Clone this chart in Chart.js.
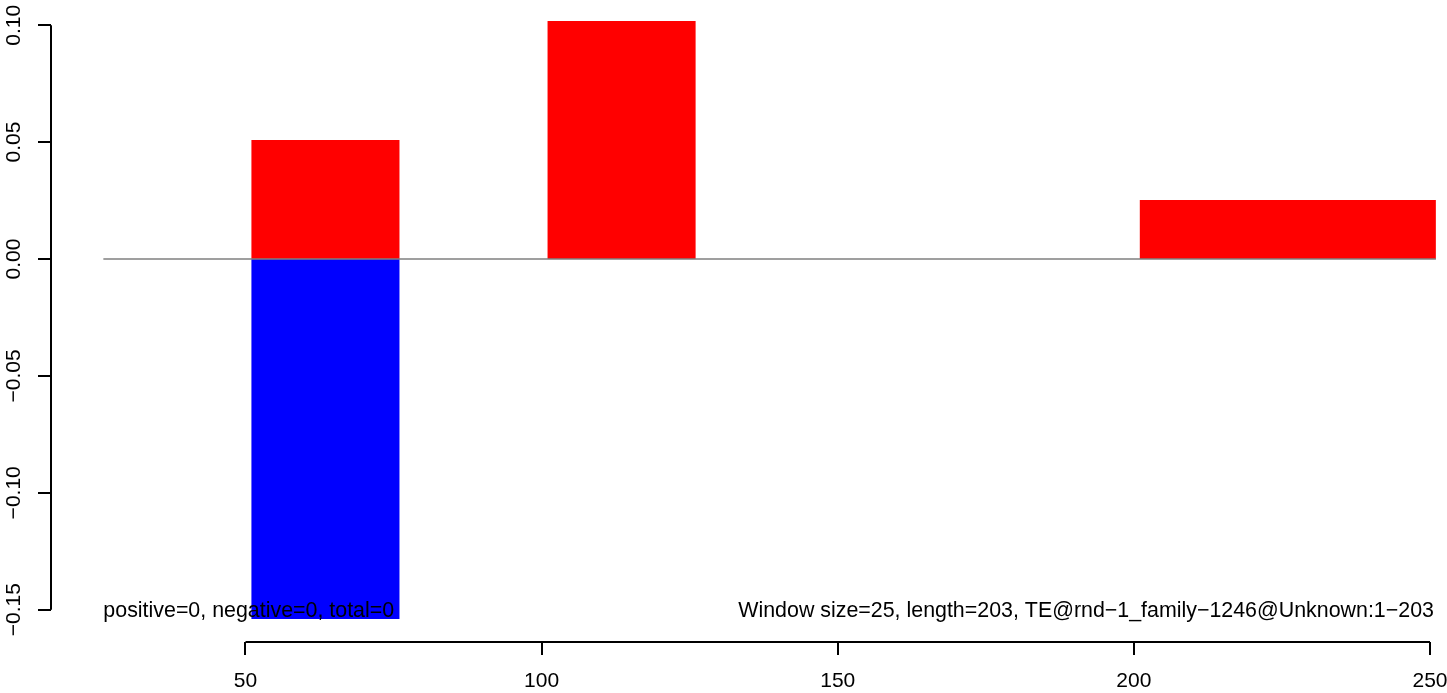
<!DOCTYPE html>
<html>
<head>
<meta charset="utf-8">
<script src="https://cdn.jsdelivr.net/npm/chart.js@4.4.1/dist/chart.umd.min.js"></script>
<style>
  html, body { margin: 0; padding: 0; background: #fff; }
</style>
</head>
<body>
<canvas id="teChart" width="1447" height="693"></canvas>
<script>
// window starts (size 25) and the bar heights
const windowStarts = [26, 51, 76, 101, 126, 151, 176, 201, 226];
const windowEnd = 251;
const positiveValues = [0, 0.0509, 0, 0.1018, 0, 0, 0, 0.0252, 0.0252];
const negativeValues = [0, -0.154, 0, 0, 0, 0, 0, 0, 0];

const xTicks = [50, 100, 150, 200, 250];
const yTicks = [-0.15, -0.10, -0.05, 0, 0.05, 0.10];

const leftNote = 'positive=0, negative=0, total=0';
const rightNote = 'Window size=25, length=203, TE@rnd\u22121_family\u22121246@Unknown:1\u2212203';

const FONT = '"Liberation Sans", Arial, Helvetica, sans-serif';
const FONT_SIZE = 21;

// stepped points: each value holds until the next window start
function steps(values) {
    const pts = windowStarts.map((x, i) => ({ x: x, y: values[i] }));
    pts.push({ x: windowEnd, y: 0 });
    return pts;
}

// R-style axis lines (only between first and last tick) and the two notes
const rStyle = {
    id: 'rStyle',
    afterDatasetsDraw(chart) {
        const { ctx, scales: { x, y } } = chart;
        ctx.save();
        ctx.font = '21.4px ' + FONT;
        ctx.fillStyle = '#000';
        ctx.textBaseline = 'middle';
        const ny = y.getPixelForValue(yTicks[0]) + 1;
        ctx.textAlign = 'left';
        ctx.fillText(leftNote, x.getPixelForValue(windowStarts[0]), ny);
        ctx.textAlign = 'right';
        ctx.fillText(rightNote, x.getPixelForValue(windowEnd) - 2, ny);
        ctx.restore();
    },
    afterDraw(chart) {
        const { ctx, chartArea, scales: { x, y } } = chart;
        ctx.save();
        ctx.strokeStyle = '#000';
        ctx.lineWidth = 2;
        ctx.beginPath();
        ctx.moveTo(x.getPixelForValue(xTicks[0]), chartArea.bottom);
        ctx.lineTo(x.getPixelForValue(xTicks[xTicks.length - 1]), chartArea.bottom);
        ctx.moveTo(chartArea.left, y.getPixelForValue(yTicks[0]));
        ctx.lineTo(chartArea.left, y.getPixelForValue(yTicks[yTicks.length - 1]));
        ctx.stroke();
        ctx.restore();
    }
};

const ctx = document.getElementById('teChart').getContext('2d');

new Chart(ctx, {
    type: 'line',
    data: {
        datasets: [
            {
                label: 'zero',
                data: [{ x: windowStarts[0], y: 0 }, { x: windowEnd, y: 0 }],
                borderColor: '#7f7f7f',
                borderWidth: 1.5,
                pointRadius: 0,
                fill: false
            },
            {
                label: 'positive',
                data: steps(positiveValues),
                stepped: true,
                borderWidth: 0,
                borderColor: 'rgba(0,0,0,0)',
                backgroundColor: '#ff0000',
                pointRadius: 0,
                fill: 'origin'
            },
            {
                label: 'negative',
                data: steps(negativeValues),
                stepped: true,
                borderWidth: 0,
                borderColor: 'rgba(0,0,0,0)',
                backgroundColor: '#0000ff',
                pointRadius: 0,
                fill: 'origin'
            }
        ]
    },
    options: {
        responsive: false,
        animation: false,
        layout: { padding: 0 },
        plugins: {
            legend: { display: false },
            tooltip: { enabled: false }
        },
        scales: {
            x: {
                type: 'linear',
                min: 17.16,
                max: 252.87,
                afterBuildTicks: s => { s.ticks = xTicks.map(v => ({ value: v })); },
                afterFit: s => {
                    s.height = 51;
                    s.paddingLeft = 0;
                    s.paddingRight = 0;
                },
                border: { display: false },
                grid: {
                    drawOnChartArea: false,
                    drawTicks: true,
                    tickLength: 13,
                    color: '#000',
                    lineWidth: 2
                },
                ticks: {
                    color: '#000',
                    font: { family: FONT, size: FONT_SIZE },
                    padding: 14,
                    maxRotation: 0,
                    autoSkip: false
                }
            },
            y: {
                type: 'linear',
                min: -0.16381,
                max: 0.11078,
                afterBuildTicks: s => { s.ticks = yTicks.map(v => ({ value: v })); },
                afterFit: s => {
                    s.width = 51;
                    s.paddingTop = 0;
                    s.paddingBottom = 0;
                },
                border: { display: false },
                grid: {
                    drawOnChartArea: false,
                    drawTicks: true,
                    tickLength: 13,
                    color: '#000',
                    lineWidth: 2
                },
                ticks: {
                    color: '#000',
                    font: { family: FONT, size: FONT_SIZE },
                    minRotation: 90,
                    maxRotation: 90,
                    crossAlign: 'center',
                    padding: -3,
                    autoSkip: false,
                    callback: v => (v < 0 ? '\u2212' : '') + Math.abs(v).toFixed(2)
                }
            }
        }
    },
    plugins: [rStyle]
});
</script>
</body>
</html>
